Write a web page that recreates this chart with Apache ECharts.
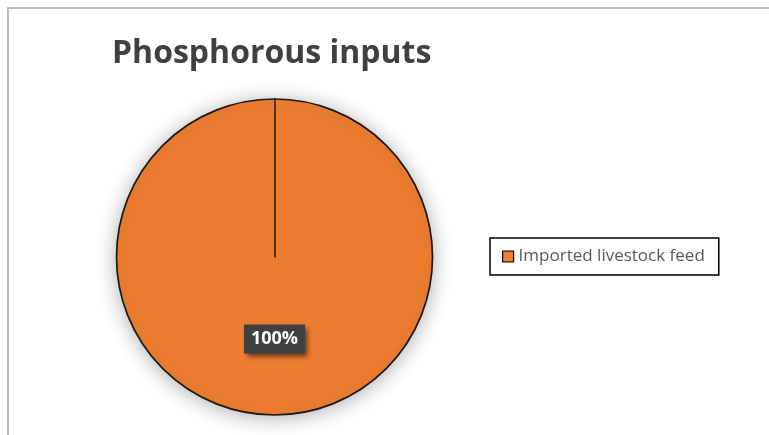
<!DOCTYPE html>
<html>
<head>
<meta charset="utf-8">
<script src="https://cdn.jsdelivr.net/npm/echarts@6/dist/echarts.min.js"></script>
<style>
  html, body { margin: 0; padding: 0; background: #fff; }
  #chart { width: 769px; height: 435px; }
</style>
</head>
<body>
<div id="chart"></div>
<script>
// Phosphorous input sources and their amounts
const categories = ['Imported livestock feed'];
const values = [100];
const sliceColors = ['#ED7D31'];

const chart = echarts.init(document.getElementById('chart'), null, { renderer: 'canvas' });

const pieCenter = [274.5, 257];
const pieRadius = 158;
const fontFamily = '"Open Sans", "Liberation Sans", sans-serif';

chart.setOption({
  animation: false,
  backgroundColor: '#ffffff',
  title: {
    text: 'Phosphorous inputs',
    left: 107,
    top: 33,
    textStyle: {
      fontFamily: fontFamily,
      fontSize: 32,
      fontWeight: 'bold',
      color: '#404040'
    }
  },
  legend: {
    orient: 'vertical',
    left: 490,
    top: 238,
    data: categories,
    icon: 'rect',
    itemWidth: 11,
    itemHeight: 11,
    itemGap: 6,
    padding: [10, 14, 10, 12],
    borderColor: '#000000',
    borderWidth: 1.5,
    itemStyle: { borderColor: '#000000', borderWidth: 1.2 },
    textStyle: {
      fontFamily: fontFamily,
      fontSize: 17,
      color: '#595959'
    }
  },
  // Polar axis supplies the slice's straight edge from the centre to 12 o'clock
  polar: { center: pieCenter, radius: pieRadius },
  angleAxis: { show: false, startAngle: 90, min: 0, max: 100 },
  radiusAxis: {
    min: 0,
    max: 1,
    z: 10,
    axisLine: { show: true, lineStyle: { color: '#1a1a1a', width: 1.5 } },
    axisTick: { show: false },
    axisLabel: { show: false },
    splitLine: { show: false }
  },
  series: [{
    type: 'pie',
    center: pieCenter,
    radius: pieRadius,
    startAngle: 90,
    clockwise: true,
    z: 1,
    data: categories.map((name, i) => ({
      name: name,
      value: values[i],
      itemStyle: { color: sliceColors[i] }
    })),
    itemStyle: {
      borderColor: '#1a1a1a',
      borderWidth: 1.7,
      shadowBlur: 20,
      shadowColor: 'rgba(0,0,0,0.3)',
      shadowOffsetX: 0,
      shadowOffsetY: 2
    },
    label: {
      show: true,
      position: 'inside',
      formatter: '{d}%',
      fontFamily: fontFamily,
      fontSize: 18,
      fontWeight: 'bold',
      color: '#ffffff',
      backgroundColor: '#404040',
      padding: [6, 7, 5, 7],
      shadowColor: 'rgba(0,0,0,0.55)',
      shadowBlur: 5,
      shadowOffsetX: 3,
      shadowOffsetY: 3
    },
    labelLine: { show: false },
    emphasis: { disabled: true }
  }],
  graphic: [{
    type: 'rect',
    shape: { x: 8, y: 8, width: 900, height: 600 },
    style: { fill: 'none', stroke: '#bfbfbf', lineWidth: 2 },
    silent: true,
    z: -1
  }]
});
</script>
</body>
</html>
